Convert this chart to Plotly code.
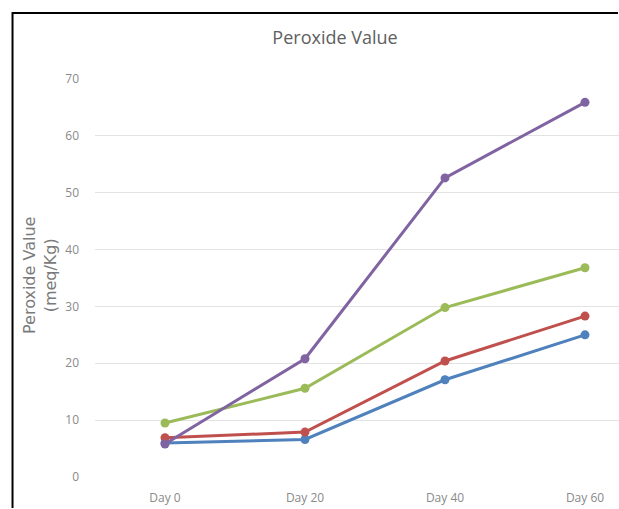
import plotly.graph_objects as go

days = ["Day 0", "Day 20", "Day 40", "Day 60"]
series_names = ["Series 1", "Series 2", "Series 3", "Series 4"]
series_values = [
    [6.0, 6.6, 17.1, 25.0],
    [6.9, 7.9, 20.4, 28.3],
    [9.5, 15.6, 29.8, 36.8],
    [5.8, 20.8, 52.6, 65.9],
]
series_colors = ["#4F81BD", "#C0504D", "#9BBB59", "#8064A2"]
y_ticks = [0, 10, 20, 30, 40, 50, 60, 70]

W, H = 619, 509
L, R, T, B = 95, 0, 79, 32
plot_w = W - L - R
plot_h = H - T - B

fig = go.Figure()
for name, vals, col in zip(series_names, series_values, series_colors):
    fig.add_trace(go.Scatter(
        x=list(range(len(days))), y=vals, name=name, mode="lines+markers",
        line=dict(color=col, width=3),
        marker=dict(color=col, size=9),
        cliponaxis=False,
    ))

font_family = "Open Sans, Lato, sans-serif"
tick_color = "#8a8a8a"

fig.update_layout(
    width=W, height=H,
    margin=dict(l=L, r=R, t=T, b=B),
    paper_bgcolor="white", plot_bgcolor="white",
    showlegend=False,
    font=dict(family=font_family, color=tick_color, size=11),
    title=dict(text="Peroxide Value", x=335 / W, xanchor="center",
               y=1 - 38 / H, yanchor="middle",
               font=dict(size=18, color="#606060", family=font_family)),
    xaxis=dict(
        range=[-0.5, -0.5 + plot_w / 140.0],
        tickmode="array", tickvals=list(range(len(days))), ticktext=days,
        showgrid=False, zeroline=False, showline=False,
        ticklabelstandoff=12,
        tickfont=dict(size=12, color=tick_color),
    ),
    yaxis=dict(
        range=[0, 70], tickmode="array", tickvals=y_ticks,
        showgrid=True, gridcolor="#e3e3e3", gridwidth=1,
        zeroline=False, showline=False, ticks="",
        ticklabelstandoff=15,
        tickfont=dict(size=12, color=tick_color),
    ),
)

# y-axis caption
fig.add_annotation(
    text="Peroxide Value<br>(meq/Kg)", textangle=-90,
    xref="paper", yref="paper",
    x=(40 - L) / plot_w, y=(H - B - 276) / plot_h,
    xanchor="center", yanchor="middle", showarrow=False,
    font=dict(size=16, color="#7a7a7a", family="DejaVu Sans"),
)

# dark frame edges (left and top) as one open path inside the figure bounds
def px_x(px):
    return (px - L) / plot_w

def px_y(py):
    return (H - B - py) / plot_h

frame_path = "M {:.4f},{:.4f} L {:.4f},{:.4f} L {:.4f},{:.4f}".format(
    px_x(12.5), px_y(H - 1),
    px_x(12.5), px_y(13),
    px_x(W - 1), px_y(13),
)
fig.add_shape(type="path", xref="paper", yref="paper", path=frame_path,
              line=dict(color="black", width=2), layer="above")

fig.write_html("out.html")
